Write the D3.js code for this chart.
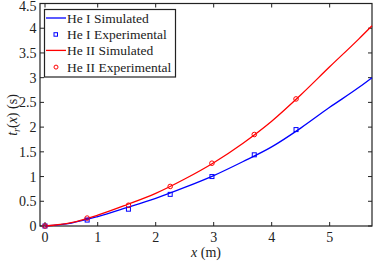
<!DOCTYPE html>
<html>
<head>
<meta charset="utf-8">
<script src="https://cdn.jsdelivr.net/npm/d3@7"></script>
<style>
  body { margin: 0; background: #fff; }
</style>
</head>
<body>
<div id="chart"></div>
<script>
// simulated curves
const SIM_X = [0, 0.5, 1, 1.5, 2, 2.5, 3, 3.5, 4, 4.5, 5, 5.5, 5.73];
const HE1_SIM = [0, 0.06, 0.19, 0.37, 0.56, 0.78, 1.02, 1.30, 1.60, 1.98, 2.40, 2.80, 3.00];
const HE2_SIM = [0, 0.07, 0.22, 0.43, 0.66, 0.95, 1.28, 1.67, 2.12, 2.65, 3.22, 3.78, 4.05];

// measured points
const EXP_X = [0, 0.8, 1.53, 2.25, 2.97, 3.7, 4.42];
const HE1_EXP = [0, 0.12, 0.34, 0.64, 1.00, 1.44, 1.95];
const HE2_EXP = [0, 0.16, 0.42, 0.80, 1.27, 1.85, 2.57];

const X_TICKS = [0, 1, 2, 3, 4, 5];
const Y_TICKS = [0, 0.5, 1, 1.5, 2, 2.5, 3, 3.5, 4, 4.5];

const LEGEND = [
  { name: 'He I Simulated', color: '#0000ff', kind: 'line' },
  { name: 'He I Experimental', color: '#0000ff', kind: 'square' },
  { name: 'He II Simulated', color: '#ff0000', kind: 'line' },
  { name: 'He II Experimental', color: '#ff0000', kind: 'circle' }
];

const W = 374, H = 261;
const PLOT_L = 40, PLOT_R = 372, PLOT_T = 3.5, PLOT_B = 226;
const FONT = '"Liberation Serif", "Times New Roman", serif';

const svg = d3.select('#chart').append('svg')
  .attr('width', W).attr('height', H)
  .attr('font-family', FONT)
  .attr('font-size', 14)
  .attr('fill', '#222');

// the original axis is a bit squeezed between 0 and 1
const x = d3.scaleLinear().domain([0, 1, 5.73]).range([45, 97.7, PLOT_R]);
const y = d3.scaleLinear().domain([0, 4.5]).range([PLOT_B, PLOT_T]);

const TICK = 4;

// frame
svg.append('rect')
  .attr('x', PLOT_L).attr('y', PLOT_T)
  .attr('width', PLOT_R - PLOT_L).attr('height', PLOT_B - PLOT_T)
  .attr('fill', 'none').attr('stroke', '#222').attr('stroke-width', 1.2);

// x ticks bottom and top
const xg = svg.append('g');
X_TICKS.forEach(v => {
  xg.append('line').attr('x1', x(v)).attr('x2', x(v)).attr('y1', PLOT_B).attr('y2', PLOT_B - TICK)
    .attr('stroke', '#222');
  xg.append('line').attr('x1', x(v)).attr('x2', x(v)).attr('y1', PLOT_T).attr('y2', PLOT_T + TICK)
    .attr('stroke', '#222');
  xg.append('text').attr('x', x(v)).attr('y', 242).attr('text-anchor', 'middle').text(v);
});

// y ticks left and right
const yg = svg.append('g');
Y_TICKS.forEach(v => {
  yg.append('line').attr('x1', PLOT_L).attr('x2', PLOT_L + TICK).attr('y1', y(v)).attr('y2', y(v))
    .attr('stroke', '#222');
  yg.append('line').attr('x1', PLOT_R).attr('x2', PLOT_R - TICK).attr('y1', y(v)).attr('y2', y(v))
    .attr('stroke', '#222');
  yg.append('text').attr('x', 36.5).attr('y', Math.max(y(v) + 5, 11)).attr('text-anchor', 'end').text(v);
});

// axis titles
const xt = svg.append('text').attr('x', 206).attr('y', 257).attr('text-anchor', 'middle');
xt.append('tspan').attr('font-style', 'italic').text('x');
xt.append('tspan').text(' (m)');

const yt = svg.append('text')
  .attr('transform', 'translate(17,115) rotate(-90)')
  .attr('text-anchor', 'middle');
yt.append('tspan').attr('font-style', 'italic').text('t');
yt.append('tspan').attr('font-style', 'italic').attr('font-size', 10).attr('dy', 3).text('r');
yt.append('tspan').attr('dy', -3).text('(');
yt.append('tspan').attr('font-style', 'italic').text('x');
yt.append('tspan').text(') (s)');

// curves
const line = d3.line().x(d => x(d[0])).y(d => y(d[1])).curve(d3.curveMonotoneX);
const sim1 = SIM_X.map((v, i) => [v, HE1_SIM[i]]);
const sim2 = SIM_X.map((v, i) => [v, HE2_SIM[i]]);

svg.append('path').datum(sim1).attr('d', line)
  .attr('fill', 'none').attr('stroke', '#0000ff').attr('stroke-width', 1.3);
svg.append('path').datum(sim2).attr('d', line)
  .attr('fill', 'none').attr('stroke', '#ff0000').attr('stroke-width', 1.3);

// experimental markers
svg.append('g').selectAll('rect')
  .data(EXP_X.map((v, i) => [v, HE1_EXP[i]]))
  .enter().append('rect')
  .attr('x', d => x(d[0]) - 2).attr('y', d => y(d[1]) - 2)
  .attr('width', 4).attr('height', 4)
  .attr('fill', 'none').attr('stroke', '#0000ff').attr('stroke-width', 1);

svg.append('g').selectAll('circle')
  .data(EXP_X.map((v, i) => [v, HE2_EXP[i]]))
  .enter().append('circle')
  .attr('cx', d => x(d[0])).attr('cy', d => y(d[1]))
  .attr('r', 2.3)
  .attr('fill', 'none').attr('stroke', '#ff0000').attr('stroke-width', 1);

// legend
const lg = svg.append('g').attr('font-size', 13.5);
lg.append('rect').attr('x', 44.5).attr('y', 9.5).attr('width', 131).attr('height', 67.5)
  .attr('fill', '#fff').attr('stroke', '#222').attr('stroke-width', 1.2);
LEGEND.forEach((d, i) => {
  const cy = 18 + i * 16.2;
  if (d.kind === 'line') {
    lg.append('line').attr('x1', 46).attr('x2', 66).attr('y1', cy).attr('y2', cy)
      .attr('stroke', d.color).attr('stroke-width', 1.3);
  } else if (d.kind === 'square') {
    lg.append('rect').attr('x', 54).attr('y', cy - 1.5).attr('width', 3.5).attr('height', 3.5)
      .attr('fill', 'none').attr('stroke', d.color);
  } else {
    lg.append('circle').attr('cx', 56).attr('cy', cy + 0.5).attr('r', 2)
      .attr('fill', 'none').attr('stroke', d.color);
  }
  lg.append('text').attr('x', 67).attr('y', cy + 5).text(d.name);
});
</script>
</body>
</html>
